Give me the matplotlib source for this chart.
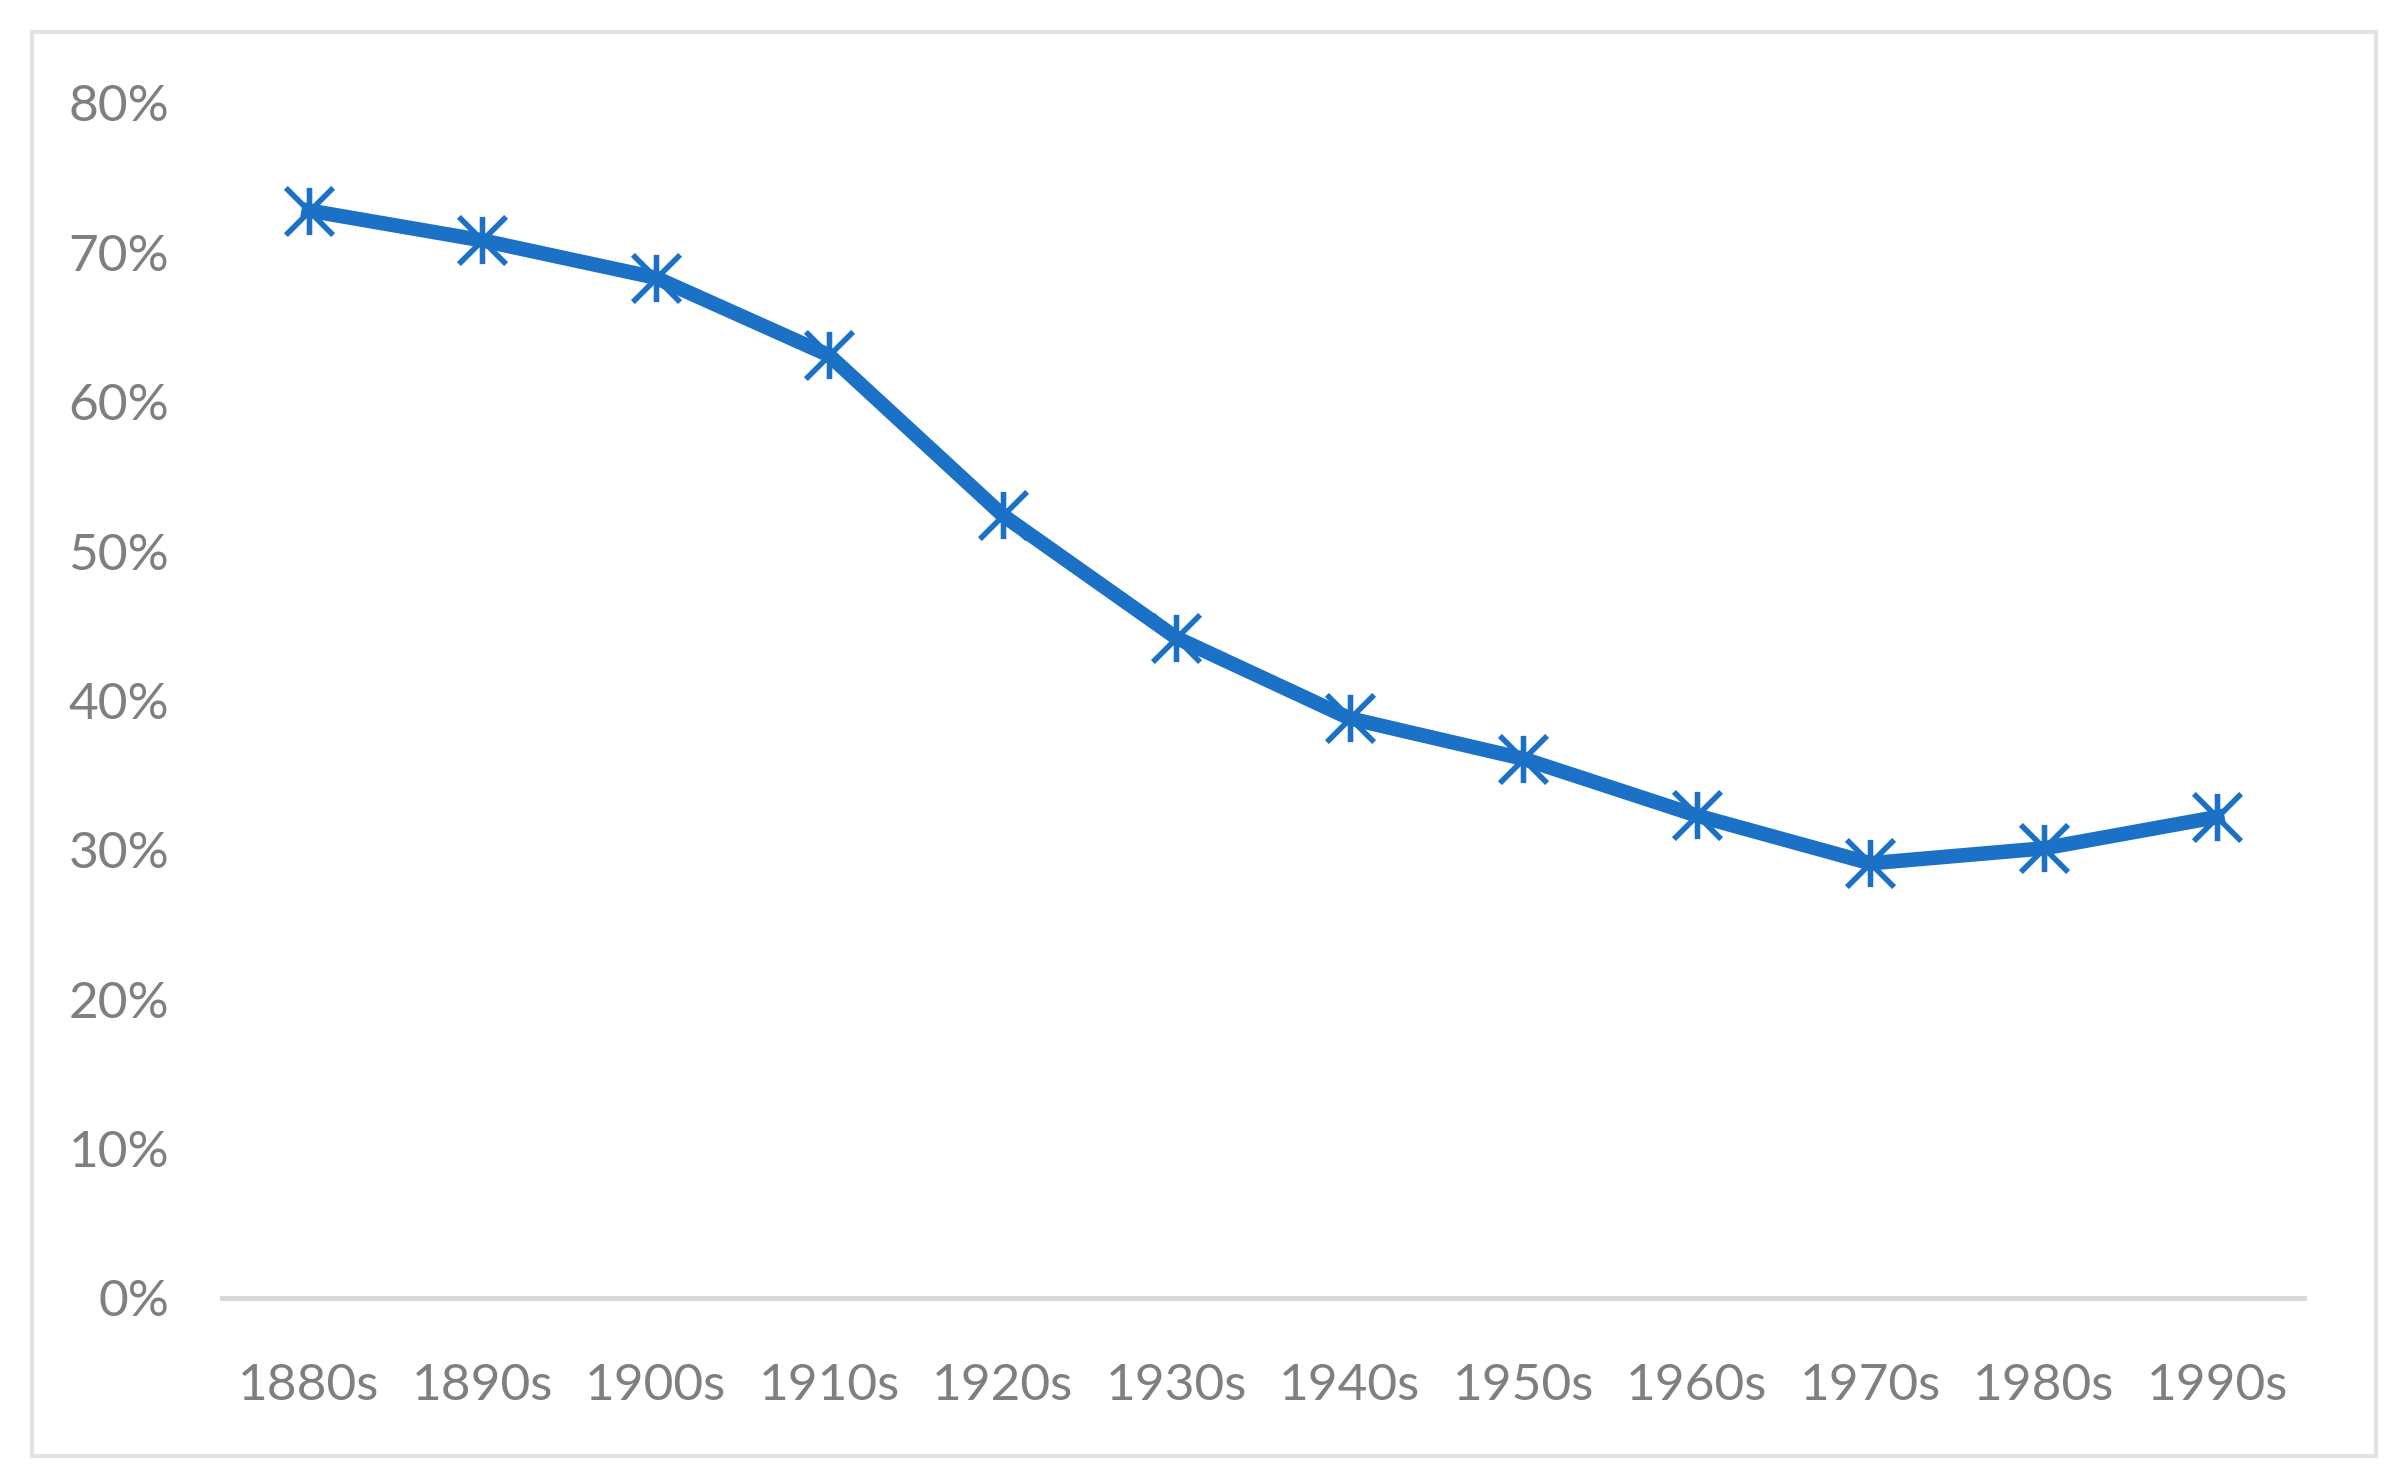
import matplotlib
matplotlib.use("Agg")
import matplotlib.pyplot as plt
from matplotlib.path import Path
from matplotlib.patches import Rectangle
from matplotlib.ticker import PercentFormatter

# Data
decades = ["1880s", "1890s", "1900s", "1910s", "1920s", "1930s",
           "1940s", "1950s", "1960s", "1970s", "1980s", "1990s"]
share = [72.8, 70.8, 68.3, 63.1, 52.4, 44.2, 38.8, 36.1, 32.3, 29.1, 30.1, 32.2]
y_ticks = [0, 10, 20, 30, 40, 50, 60, 70, 80]

blue = "#1b71c6"
grey_text = "#7f7f7f"

plt.rcParams["font.family"] = ["Lato", "DejaVu Sans"]

# Excel style star marker: vertical bar plus an X
star = Path([(0, -1), (0, 1), (-1, -1), (1, 1), (-1, 1), (1, -1)],
            [Path.MOVETO, Path.LINETO, Path.MOVETO, Path.LINETO, Path.MOVETO, Path.LINETO])

fig = plt.figure(figsize=(23.97, 14.77), dpi=100)
ax = fig.add_axes([0.0926, 0.1212, 0.9612 - 0.0926, 0.9303 - 0.1212])

x = list(range(len(decades)))
ax.plot(x, share, color=blue, linewidth=10.5, solid_joinstyle="round",
        marker=star, markersize=34, markerfacecolor="none",
        markeredgecolor=blue, markeredgewidth=4, zorder=3)

ax.set_xlim(-0.5, len(decades) - 0.5)
ax.set_ylim(0, 80)
ax.set_yticks(y_ticks)
ax.yaxis.set_major_formatter(PercentFormatter(decimals=0))
ax.set_xticks(x)
ax.set_xticklabels(decades)

for side in ["top", "right", "left"]:
    ax.spines[side].set_visible(False)
ax.spines["bottom"].set_color("#d9d9d9")
ax.spines["bottom"].set_linewidth(3.6)

ax.tick_params(axis="both", length=0, labelsize=37, labelcolor=grey_text)
ax.tick_params(axis="y", pad=38)
ax.tick_params(axis="x", pad=47)

# light chart border
fig.patches.append(Rectangle((32 / 2397, 1 - 1456 / 1477), (2376 - 32) / 2397, (1456 - 32) / 1477,
                             transform=fig.transFigure, fill=False,
                             edgecolor="#e2e2e2", linewidth=3))

fig.savefig("out.png", dpi=100)
